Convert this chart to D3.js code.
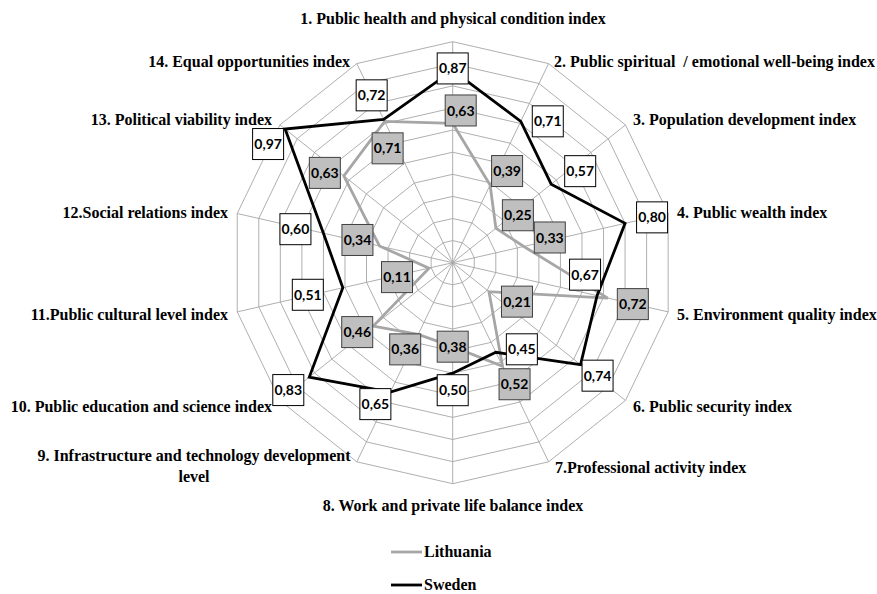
<!DOCTYPE html>
<html>
<head>
<meta charset="utf-8">
<script src="https://cdn.jsdelivr.net/npm/d3@7"></script>
<style>
  body { margin: 0; background: #fff; }
  .axis-label { font-family: "Liberation Serif", "Times New Roman", serif; font-weight: bold; font-size: 16px; fill: #000; }
  .legend-label { font-family: "Liberation Serif", "Times New Roman", serif; font-weight: bold; font-size: 16px; fill: #000; }
  .value-label { font-family: Lato, "Open Sans", sans-serif; font-weight: bold; font-size: 14px; fill: #000; }
</style>
</head>
<body>
<svg id="chart" width="877" height="594"></svg>
<script>
(function () {

  'use strict';

  var indices = [
    '1. Public health and physical condition index',
    '2. Public spiritual  / emotional well-being index',
    '3. Population development index',
    '4. Public wealth index',
    '5. Environment quality index',
    '6. Public security index',
    '7.Professional activity index',
    '8. Work and private life balance index',
    '9. Infrastructure and technology development level',
    '10. Public education and science index',
    '11.Public cultural level index',
    '12.Social relations index',
    '13. Political viability index',
    '14. Equal opportunities index'
  ];
  var lithuania = [0.63, 0.39, 0.25, 0.33, 0.72, 0.21, 0.52, 0.38, 0.36, 0.46, 0.11, 0.34, 0.63, 0.71];
  var sweden = [0.87, 0.71, 0.57, 0.80, 0.67, 0.74, 0.45, 0.50, 0.65, 0.83, 0.51, 0.60, 0.97, 0.72];
  var rings = d3.range(1, 11).map(function (d) { return d / 10; }); // 0.1 .. 1.0

  // ----------- LAYOUT --------------

  var cx = 452.7, cy = 262.7, R = 221;

  // where the boxes sit relative to their point (hand placed, like the original)
  var lithuaniaNudge = [[8,-13],[17,-14],[22,-13],[26,-9],[25,6],[28,10],[12,18],[0,0],[-13,15],[-16,6],[-32,9],[-22,-6],[-19,-3],[3,27]];
  var swedenNudge = [[0,-2],[27,0],[29,-13],[27,-6],[-12,-21],[17,11],[26,-3],[0,17],[-15,12],[-21,13],[-35,7],[-28,-4],[-17,15],[-12,-24]];

  // axis label anchors: x, first baseline, text-anchor
  var labelPos = [
    [453, 24, 'middle'], [554, 67, 'start'], [633, 125, 'start'], [677, 218, 'start'],
    [677, 320, 'start'], [633, 412, 'start'], [555, 473, 'start'], [453, 511, 'middle'],
    [194, 461, 'middle'], [272, 412, 'end'], [228, 320, 'end'], [228, 218, 'end'],
    [272, 125, 'end'], [350, 67, 'end']
  ];

  var svg = d3.select('#chart');
  var g = svg.append('g').attr('transform', 'translate(' + cx + ',' + cy + ')');

  var r = d3.scaleLinear().domain([0, 1]).range([0, R]);
  var angle = d3.scaleLinear().domain([0, indices.length]).range([0, 2 * Math.PI]);

  function px(i, v) { return r(v) * Math.sin(angle(i)); }
  function py(i, v) { return -r(v) * Math.cos(angle(i)); }

  // grid rings
  var ring = d3.lineRadial()
    .angle(function (d, i) { return angle(i); })
    .radius(function (d) { return r(d); })
    .curve(d3.curveLinearClosed);

  g.selectAll('.ring')
    .data(rings)
    .enter()
    .append('path')
    .attr('class', 'ring')
    .attr('d', function (d) { return ring(indices.map(function () { return d; })); })
    .attr('fill', 'none')
    .attr('stroke', '#a6a6a6')
    .attr('stroke-width', 0.9);

  // spokes
  g.selectAll('.spoke')
    .data(indices)
    .enter()
    .append('line')
    .attr('class', 'spoke')
    .attr('x1', 0).attr('y1', 0)
    .attr('x2', function (d, i) { return px(i, 1); })
    .attr('y2', function (d, i) { return py(i, 1); })
    .attr('stroke', '#a6a6a6')
    .attr('stroke-width', 0.9);

  // series
  var series = [
    { name: 'Lithuania', values: lithuania, color: '#a6a6a6', fill: '#bfbfbf', box: '#404040', nudge: lithuaniaNudge },
    { name: 'Sweden', values: sweden, color: '#000', fill: '#fff', box: '#000', nudge: swedenNudge }
  ];

  g.selectAll('.series')
    .data(series)
    .enter()
    .append('path')
    .attr('class', 'series')
    .attr('d', function (s) { return ring(s.values); })
    .attr('fill', 'none')
    .attr('stroke', function (s) { return s.color; })
    .attr('stroke-width', 2.8)
    .attr('stroke-linejoin', 'miter');

  // value boxes
  series.forEach(function (s) {
    var lab = g.selectAll('.lab-' + s.name)
      .data(s.values)
      .enter()
      .append('g')
      .attr('class', 'lab-' + s.name)
      .attr('transform', function (d, i) {
        return 'translate(' + (px(i, d) + s.nudge[i][0]) + ',' + (py(i, d) + s.nudge[i][1]) + ')';
      });

    lab.append('rect')
      .attr('x', -15.5).attr('y', -15.5)
      .attr('width', 31).attr('height', 31)
      .attr('fill', s.fill)
      .attr('stroke', s.box)
      .attr('stroke-width', 1);

    lab.append('text')
      .attr('class', 'value-label')
      .attr('text-anchor', 'middle')
      .attr('dy', '0.36em')
      .text(function (d) { return d3.format('.2f')(d).replace('.', ','); });
  });

  // axis labels
  var labels = svg.selectAll('.axis-label')
    .data(indices)
    .enter()
    .append('text')
    .attr('class', 'axis-label')
    .attr('x', function (d, i) { return labelPos[i][0]; })
    .attr('y', function (d, i) { return labelPos[i][1]; })
    .attr('text-anchor', function (d, i) { return labelPos[i][2]; })
    .style('white-space', 'pre');

  labels.each(function (d, i) {
    var t = d3.select(this);
    if (i === 8) {
      t.append('tspan').text('9. Infrastructure and technology development');
      t.append('tspan').attr('x', labelPos[i][0]).attr('dy', 21).text('level');
    } else {
      t.text(d);
    }
  });

  // legend
  var legend = svg.selectAll('.legend')
    .data(series)
    .enter()
    .append('g')
    .attr('class', 'legend')
    .attr('transform', function (d, i) { return 'translate(391,' + (552 + i * 33) + ')'; });

  legend.append('line')
    .attr('x1', 0).attr('x2', 31)
    .attr('stroke', function (d) { return d.color; })
    .attr('stroke-width', 2.8);

  legend.append('text')
    .attr('class', 'legend-label')
    .attr('x', 33)
    .attr('y', 5)
    .text(function (d) { return d.name; });

})();
</script>
</body>
</html>
